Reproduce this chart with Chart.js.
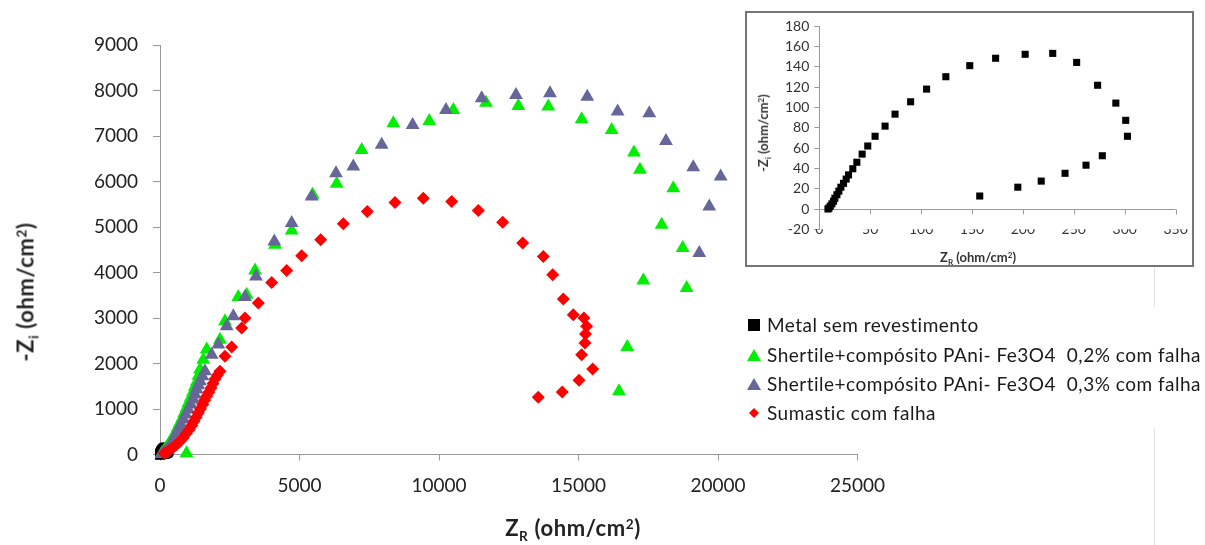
<!DOCTYPE html>
<html><head><meta charset="utf-8">
<script src="https://cdn.jsdelivr.net/npm/chart.js@4.4.1/dist/chart.umd.min.js"></script>
<style>
html,body{margin:0;padding:0;background:#fff;}
#wrap{position:relative;width:1205px;height:545px;overflow:hidden;background:#fff;font-family:Lato,"Open Sans",sans-serif;color:#1a1a1a;}
.t{position:absolute;white-space:nowrap;transform:translate(-50%,-50%);}
.rot{transform:translate(-50%,-50%) rotate(-90deg);}
.t sub,.t sup{font-size:62%;line-height:0;position:relative;vertical-align:baseline;}
.t sub{top:0.35em;}
.t sup{top:-0.55em;}
#inset{position:absolute;left:745px;top:11px;width:445px;height:252px;border:2px solid #757575;background:#fff;}
#ins{position:absolute;left:0;top:0;}
.lg{position:absolute;left:767px;height:22px;line-height:22px;font-size:19px;letter-spacing:0.5px;white-space:pre;color:#1a1a1a;}
.mk{position:absolute;}
.faint{position:absolute;left:1154px;width:1px;background:#e3e3e3;}
</style>
</head>
<body>
<div id="wrap">
<canvas id="main" width="1205" height="545" style="position:absolute;left:0;top:0"></canvas>

<div class="t rot" style="left:25px;top:292px;font-size:22px;letter-spacing:0.6px;font-weight:700;color:#222">-Z<sub>i</sub> (ohm/cm<sup>2</sup>)</div>
<div class="t" style="left:573px;top:527px;font-size:22px;letter-spacing:0.6px;font-weight:700;color:#222">Z<sub>R</sub> (ohm/cm<sup>2</sup>)</div>

<div class="faint" style="top:267px;height:40px"></div>
<div class="faint" style="top:428px;height:117px"></div>

<svg class="mk" style="left:747px;top:318px" width="14" height="14"><rect x="1" y="1" width="12" height="12" fill="#000"/></svg>
<svg class="mk" style="left:747px;top:348px" width="14" height="14"><polygon points="7,1 14,13 0,13" fill="#00ee00"/></svg>
<svg class="mk" style="left:747px;top:377px" width="14" height="14"><polygon points="7,1 14,13 0,13" fill="#666699"/></svg>
<svg class="mk" style="left:747px;top:406px" width="14" height="14"><polygon points="7,2 12,7 7,12 2,7" fill="#ff0000"/></svg>
<div class="lg" style="top:314px">Metal sem revestimento</div>
<div class="lg" style="top:344px">Shertile+compósito PAni- Fe3O4  0,2% com falha</div>
<div class="lg" style="top:373px">Shertile+compósito PAni- Fe3O4  0,3% com falha</div>
<div class="lg" style="top:402px">Sumastic com falha</div>

<div id="inset">
  <canvas id="ins" width="445" height="252"></canvas>
  <div class="t rot" style="left:16px;top:120px;font-size:13px;font-weight:700;color:#333">-Z<sub>i</sub> (ohm/cm<sup>2</sup>)</div>
  <div class="t" style="left:231px;top:244px;font-size:13px;font-weight:700;color:#333">Z<sub>R</sub> (ohm/cm<sup>2</sup>)</div>
</div>
</div>

<script>
// ---- data (Z_R, -Z_i) in ohm/cm² ----
const metalPts = [[157.6,12.8],[195,21.5],[218,27.5],[241.4,35.2],[262,43.2],[278,52.5],[302.7,71.7],[301,87.4],[291.3,104.4],[273.4,122],[252.8,144.5],[229.3,153.4],[202.2,152.5],[173.2,148.6],[147.8,141.3],[124.3,130.4],[105.4,118.2],[89.7,105.7],[74.4,93.5],[64.6,81.7],[54.8,71.7],[47.6,62.1],[42.1,54.1],[36.9,46.1],[32.9,39.7],[28.7,33.6],[26.4,29.5],[23.8,25.3],[21.2,21.5],[19.2,17.6],[17.3,14.1],[15.3,10.6],[14,7.7],[12.4,5.1],[10.8,2.9],[9.5,1],[8.5,0]];
const shertile02Pts = [[60,20],[120,60],[190,120],[260,180],[340,250],[420,330],[490,410],[560,490],[640,600],[720,700],[800,800],[870,910],[950,1020],[1020,1130],[1100,1250],[1180,1370],[1250,1490],[1320,1600],[1380,1730],[1434,1866],[1550,2080],[1673,2305],[2150,2524],[2330,2926],[2807,3461],[3106,3512],[3405,4046],[4122,4610],[4719,4924],[5472,5707],[6332,5948],[7228,6695],[8363,7281],[9652,7331],[10513,7573],[11684,7733],[12843,7661],[13917,7646],[15113,7369],[16189,7134],[16988,6636],[17203,6256],[18398,5854],[17981,5049],[18733,4537],[17322,3826],[18876,3659],[16748,2364],[16451,1390],[950,30]];
const shertile03Pts = [[60,10],[130,40],[200,90],[299,146],[380,230],[478,329],[560,430],[657,549],[740,650],[836,768],[920,880],[1015,988],[1100,1100],[1195,1207],[1250,1320],[1314,1427],[1370,1520],[1434,1610],[1520,1720],[1613,1829],[1852,2195],[2091,2415],[2389,2817],[2628,3036],[3047,3461],[3441,3914],[4098,4683],[4719,5086],[5436,5670],[6308,6183],[6929,6329],[7945,6805],[9055,7244],[10250,7573],[11529,7829],[12759,7902],[13978,7939],[15315,7865],[16403,7536],[17537,7500],[18135,6892],[19113,6315],[20095,6109],[19688,5451],[19329,4427]];
const sumasticPts = [[150,30],[250,60],[358,110],[480,160],[597,219],[720,290],[836,366],[940,460],[1051,549],[1140,640],[1219,731],[1300,820],[1374,914],[1450,1000],[1529,1098],[1600,1190],[1673,1280],[1750,1370],[1828,1463],[1900,1560],[1971,1661],[2060,1745],[2150,1829],[2330,2158],[2569,2364],[2927,2781],[3047,3000],[3524,3330],[4003,3782],[4540,4046],[5078,4368],[5759,4719],[6570,5070],[7430,5341],[8422,5538],[9438,5634],[10454,5561],[11409,5363],[12282,5107],[13000,4646],[13738,4353],[14074,3951],[14455,3418],[14813,3073],[15196,3000],[15292,2817],[15250,2650],[15232,2452],[15113,2195],[15508,1881],[15017,1631],[14418,1376],[13558,1258]];
const seriesLabels = ['Metal sem revestimento','Shertile+compósito PAni- Fe3O4  0,2% com falha','Shertile+compósito PAni- Fe3O4  0,3% com falha','Sumastic com falha'];
const mainXTicks = [0,5000,10000,15000,20000,25000];
const mainYTicks = [0,1000,2000,3000,4000,5000,6000,7000,8000,9000];
const insetXTicks = [0,50,100,150,200,250,300,350];
const insetYTicks = [-20,0,20,40,60,80,100,120,140,160,180];

const toXY = a => a.map(p => ({x:p[0], y:p[1]}));
const AX = '#9a9a9a';

function ds(label, pts, style, r, color, order){
  return {label, data:toXY(pts), pointStyle:style, pointRadius:r, pointHoverRadius:r,
    pointBackgroundColor:color, pointBorderColor:color, pointBorderWidth:0, showLine:false, order, clip:false};
}

new Chart(document.getElementById('main'), {
  type:'scatter',
  data:{datasets:[
    ds(seriesLabels[0], metalPts, 'rect', 7, '#000000', 4),
    ds(seriesLabels[1], shertile02Pts, 'triangle', 8, '#00ee00', 3),
    ds(seriesLabels[2], shertile03Pts, 'triangle', 8, '#666699', 2),
    ds(seriesLabels[3], sumasticPts, 'rectRot', 6.5, '#ff0000', 1)
  ]},
  options:{
    responsive:false, animation:false, events:[],
    layout:{padding:{top:45, right:347.5, left:0, bottom:0}},
    plugins:{legend:{display:false}, tooltip:{enabled:false}},
    scales:{
      x:{type:'linear', min:mainXTicks[0], max:mainXTicks[mainXTicks.length-1],
        afterFit(s){ s.height = 90.5; },
        afterBuildTicks(s){ s.ticks = mainXTicks.map(v=>({value:v})); },
        ticks:{font:{family:'Lato', size:19}, color:'#222', padding:14, maxRotation:0, autoSkip:false, callback:v=>String(v)},
        grid:{drawOnChartArea:false, tickLength:6, tickColor:AX}, border:{color:AX, width:1}},
      y:{type:'linear', min:mainYTicks[0], max:mainYTicks[mainYTicks.length-1],
        afterFit(s){ s.width = 160; },
        afterBuildTicks(s){ s.ticks = mainYTicks.map(v=>({value:v})); },
        ticks:{font:{family:'Lato', size:19}, color:'#222', padding:15, autoSkip:false, callback:v=>String(v)},
        grid:{drawOnChartArea:false, tickLength:7, tickColor:AX}, border:{color:AX, width:1}}
    }
  }
});

const zeroLine = {
  id:'zeroLine',
  beforeDatasetsDraw(chart){
    const {ctx, chartArea, scales:{x, y}} = chart;
    const y0 = Math.round(y.getPixelForValue(0)) + 0.5;
    ctx.save();
    ctx.strokeStyle = AX; ctx.lineWidth = 1;
    ctx.beginPath();
    ctx.moveTo(chartArea.left, y0); ctx.lineTo(chartArea.right, y0);
    insetXTicks.forEach(v => { const px = Math.round(x.getPixelForValue(v)) + 0.5; ctx.moveTo(px, y0); ctx.lineTo(px, y0 + 5); });
    ctx.stroke();
    ctx.restore();
  }
};

new Chart(document.getElementById('ins'), {
  type:'scatter',
  data:{datasets:[ ds(seriesLabels[0], metalPts, 'rect', 5, '#000000', 1) ]},
  plugins:[zeroLine],
  options:{
    responsive:false, animation:false, events:[],
    layout:{padding:{top:8.3, right:16.4, left:0, bottom:0}},
    plugins:{legend:{display:false}, tooltip:{enabled:false}},
    scales:{
      x:{type:'linear', min:insetXTicks[0], max:insetXTicks[insetXTicks.length-1],
        afterFit(s){ s.height = 35.7; },
        afterBuildTicks(s){ s.ticks = insetXTicks.map(v=>({value:v})); },
        ticks:{font:{family:'Lato', size:14}, color:'#333', padding:-8, maxRotation:0, autoSkip:false, callback:v=>String(v)},
        grid:{display:false, drawTicks:false}, border:{display:false}},
      y:{type:'linear', min:insetYTicks[0], max:insetYTicks[insetYTicks.length-1],
        afterFit(s){ s.width = 72.3; },
        afterBuildTicks(s){ s.ticks = insetYTicks.map(v=>({value:v})); },
        ticks:{font:{family:'Lato', size:14}, color:'#333', padding:5, autoSkip:false, callback:v=>String(v)},
        grid:{drawOnChartArea:false, tickLength:5, tickColor:AX}, border:{color:AX, width:1}}
    }
  }
});
</script>
</body></html>
